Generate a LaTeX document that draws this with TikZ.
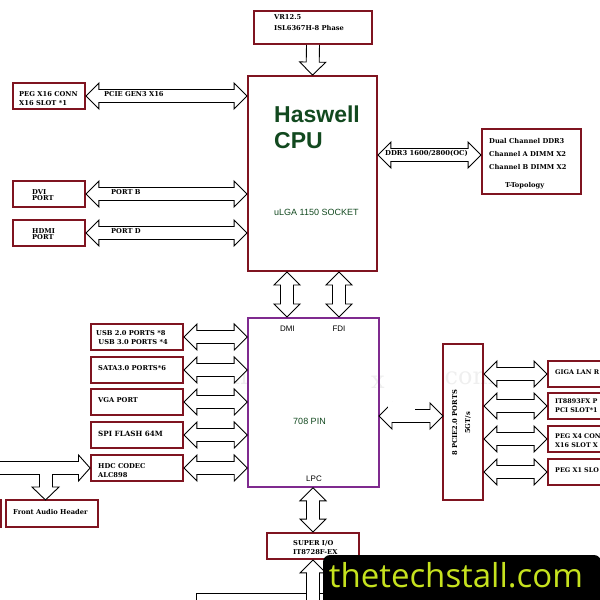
\documentclass[tikz,border=0pt]{standalone}
\usepackage{fontspec}
\setmainfont{DejaVu Serif}
\setsansfont{Liberation Sans}
\usetikzlibrary{calc}
\definecolor{boxred}{HTML}{7F1420}
\definecolor{pchpurple}{HTML}{7F2A8F}
\definecolor{cpugreen}{HTML}{12491F}
\definecolor{limetext}{HTML}{C6E21E}
\definecolor{wmgrey}{HTML}{EFEFEF}
\tikzset{
  hwbox/.style={draw=boxred,line width=1.8pt,inner sep=0pt},
  lbl/.style={font=\bfseries\fontsize{6.7}{8}\selectfont,anchor=west,align=left,inner sep=0pt,text=black},
  sanslbl/.style={font=\sffamily\fontsize{8}{9}\selectfont,inner sep=0pt},
  greenlbl/.style={font=\sffamily\fontsize{9}{10}\selectfont,inner sep=0pt,text=cpugreen},
  wmark/.style={font=\fontsize{24}{26}\selectfont,text=wmgrey,inner sep=0pt},
  dblarrow/.style={draw=black,fill=white,line width=0.9pt,line join=miter,to path={
    let \p1=($(\tikztotarget)-(\tikztostart)$),\n1={atan2(\y1,\x1)},\n2={veclen(\x1,\y1)} in
    (\tikztostart) -- ++(\n1+45:18.38pt) -- ++(\n1-90:6.5pt) -- ++(\n1:\n2-26pt) -- ++(\n1+90:6.5pt)
    -- (\tikztotarget) -- ++(\n1-135:18.38pt) -- ++(\n1+90:6.5pt) -- ++(\n1+180:\n2-26pt) -- ++(\n1-90:6.5pt) -- cycle}},
  downarrow/.style={draw=black,fill=white,line width=0.9pt,to path={
    let \p1=($(\tikztotarget)-(\tikztostart)$),\n1={atan2(\y1,\x1)},\n2={veclen(\x1,\y1)} in
    (\tikztostart) ++(\n1+90:6.5pt) -- ++(\n1:\n2-13pt) -- ++(\n1+90:6.5pt)
    -- (\tikztotarget) -- ++(\n1-135:18.38pt) -- ++(\n1+90:6.5pt) -- ++(\n1+180:\n2-13pt)}}
}
\begin{document}
\begin{tikzpicture}[x=1pt,y=-1pt]
\useasboundingbox (0,0) rectangle (600,600);
\clip (0,0) rectangle (600,600);

%watermark
\node[wmark] (wma) at (240,375) {h};
\node[wmark] (wmb) at (378,382) {x};
\node[wmark] (wmc) at (470,378) {com};

%CPU side
\node[hwbox,minimum width=118pt,minimum height=33pt] (vr) at (313,27.5) {};
\node[hwbox,minimum width=129pt,minimum height=195pt] (cpu) at (312.5,173.5) {};
\node[hwbox,minimum width=72pt,minimum height=26pt] (peg) at (49,96) {};
\node[hwbox,minimum width=72pt,minimum height=26pt] (dvi) at (49,194) {};
\node[hwbox,minimum width=72pt,minimum height=26pt] (hdmi) at (49,233) {};
\node[hwbox,minimum width=99pt,minimum height=65pt] (ddr) at (531.5,161.5) {};

\node[lbl] (vrt) at (274,22.5) {VR12.5\\[2.5pt]ISL6367H-8 Phase};
\node[lbl] (pegt) at (19,99) {PEG X16 CONN\\[1pt]X16 SLOT *1};
\node[lbl] (dvit) at (32,195) {DVI\\[-2.5pt]PORT};
\node[lbl] (hdmit) at (32,234) {HDMI\\[-2.5pt]PORT};
\node[lbl] (ddrt) at (489,153.5) {Dual Channel DDR3\\[5pt]Channel A DIMM X2\\[5pt]Channel B DIMM X2};
\node[lbl] (topo) at (505,185.5) {T-Topology};
\node[font=\sffamily\bfseries\fontsize{23}{26}\selectfont,text=cpugreen,anchor=west,align=left,inner sep=0pt] (cput) at (274,127.5) {Haswell\\CPU};
\node[greenlbl,anchor=west] (socket) at (274,212) {uLGA 1150 SOCKET};

%PCH side
\node[draw=pchpurple,line width=1.6pt,inner sep=0pt,minimum width=131pt,minimum height=169pt] (pch) at (313.5,402.5) {};
\node[hwbox,minimum width=92pt,minimum height=26pt] (usb) at (137,337) {};
\node[hwbox,minimum width=92pt,minimum height=26pt] (sata) at (137,370) {};
\node[hwbox,minimum width=92pt,minimum height=26pt] (vga) at (137,402) {};
\node[hwbox,minimum width=92pt,minimum height=26pt] (spi) at (137,435) {};
\node[hwbox,minimum width=92pt,minimum height=26pt] (hdc) at (137,468) {};
\node[hwbox,minimum width=92pt,minimum height=27pt] (front) at (52,513.5) {};
\node[hwbox,minimum width=60pt,minimum height=27pt] (rear) at (-29,513.5) {};
\node[hwbox,minimum width=92pt,minimum height=26pt] (sio) at (313,546) {};
\node[hwbox,minimum width=40pt,minimum height=156pt] (pcie) at (463,422) {};
\node[hwbox,minimum width=60pt,minimum height=26pt] (lan) at (578,374) {};
\node[hwbox,minimum width=60pt,minimum height=26pt] (it) at (578,406) {};
\node[hwbox,minimum width=60pt,minimum height=26pt] (pegfour) at (578,439) {};
\node[hwbox,minimum width=60pt,minimum height=26pt] (pegone) at (578,472) {};
\node[draw=black,line width=0.9pt,minimum width=300pt,minimum height=40pt,anchor=north west,inner sep=0pt] (lower) at (195.5,592.5) {};

\node[sanslbl] (dmi) at (287.5,329) {DMI};
\node[sanslbl] (fdi) at (339,329) {FDI};
\node[sanslbl] (lpc) at (314,479) {LPC};
\node[greenlbl] (pin) at (309.5,421) {708 PIN};
\node[lbl] (usbt) at (96,337.5) {USB 2.0 PORTS *8\\[1pt]\,\,USB 3.0 PORTS *4};
\node[lbl] (satat) at (98,368.5) {SATA3.0 PORTS*6};
\node[lbl] (vgat) at (98,400.5) {VGA PORT};
\node[lbl,font=\bfseries\fontsize{7.2}{8}\selectfont] (spit) at (98,433.5) {SPI FLASH 64M};
\node[lbl] (hdct) at (98,471) {HDC CODEC\\[1pt]ALC898};
\node[lbl] (frontt) at (13,511.5) {Front Audio Header};
\node[lbl] (siot) at (293,548) {SUPER I/O\\[1pt]IT8728F-EX};
\node[lbl,font=\bfseries\fontsize{6.4}{8}\selectfont] (lant) at (555,372.5) {GIGA LAN R};
\node[lbl,font=\bfseries\fontsize{6.4}{8}\selectfont] (itt) at (555,406) {IT8893FX P\\[1pt]PCI SLOT*1};
\node[lbl,font=\bfseries\fontsize{6.4}{8}\selectfont] (pegfourt) at (555,441) {PEG X4 CON\\[1pt]X16 SLOT X};
\node[lbl,font=\bfseries\fontsize{6.4}{8}\selectfont] (pegonet) at (555,470.5) {PEG X1 SLO};
\node[lbl,rotate=90,anchor=center,align=center] (pciet) at (461.5,423) {8 PCIE2.0 PORTS\\[5pt]5GT/s};

%block arrows
\draw[downarrow] (vr.south) to (cpu.north);
\draw[dblarrow] (peg.east) to (peg.east -| cpu.west);
\draw[dblarrow] (dvi.east) to (dvi.east -| cpu.west);
\draw[dblarrow] (hdmi.east) to (hdmi.east -| cpu.west);
\draw[dblarrow] (cpu.east |- ddr.west) ++(0,-6.5) coordinate (ddrl) (ddrl) to (ddrl -| ddr.west);
\node[font=\bfseries\fontsize{6.8}{8}\selectfont,inner sep=0pt,text=black] (ddrlbl) at (426.5,153.5) {DDR3 1600/2800(OC)};
\node[lbl] (gen) at (104,94.5) {PCIE GEN3 X16};
\node[lbl] (portb) at (111,192.5) {PORT B};
\node[lbl] (portd) at (111,231.5) {PORT D};

\draw[dblarrow] (287,272) coordinate (dmitop) to (287,317) coordinate (dmibot);
\draw[dblarrow] (339,272) coordinate (fditop) to (339,317) coordinate (fdibot);
\draw[dblarrow] (sio.north |- pch.south) to (sio.north);

\foreach \src in {usb,sata,vga,spi,hdc}
  \draw[dblarrow] (\src.east) to (\src.east -| pch.west);

%PCIe branch
\coordinate (pchr) at (379,416);
\coordinate (pcier) at (443,416);
\draw[dblarrow] (pchr) to (pcier);
\fill[white] (387.5,402) rectangle (415,410.5);
\foreach \dev in {lan,it,pegfour,pegone}
  \draw[dblarrow] (\dev.west -| pcie.east) to (\dev.west);

%audio
\coordinate (audin) at (-2,461.5);
\coordinate (fronttip) at (45.5,500);
\draw[fill=white,line width=0.9pt] (audin) -- (78.5,461.5) -- (78.5,455) -- (hdc.west) -- (78.5,481) -- (78.5,474.5) -- (52.5,474.5)
  -- (52.5,487) -- (59,487) -- (fronttip) -- (32,487) -- (39.5,487) -- (39.5,474.5) -- (-2,474.5);

%lower arrow
\coordinate (siotail) at (313,604);
\draw[downarrow] (siotail) to (sio.south);

%banner
\fill[black] (323,600.5) -- (323,563) [rounded corners=7pt] -- (323,555) -- (601,555) [sharp corners] -- (601,600.5) -- cycle;
\node[font=\fontspec{Open Sans}\fontsize{33}{36}\selectfont,text=limetext,inner sep=0pt] (site) at (456,575) {thetechstall.com};
\end{tikzpicture}
\end{document}
